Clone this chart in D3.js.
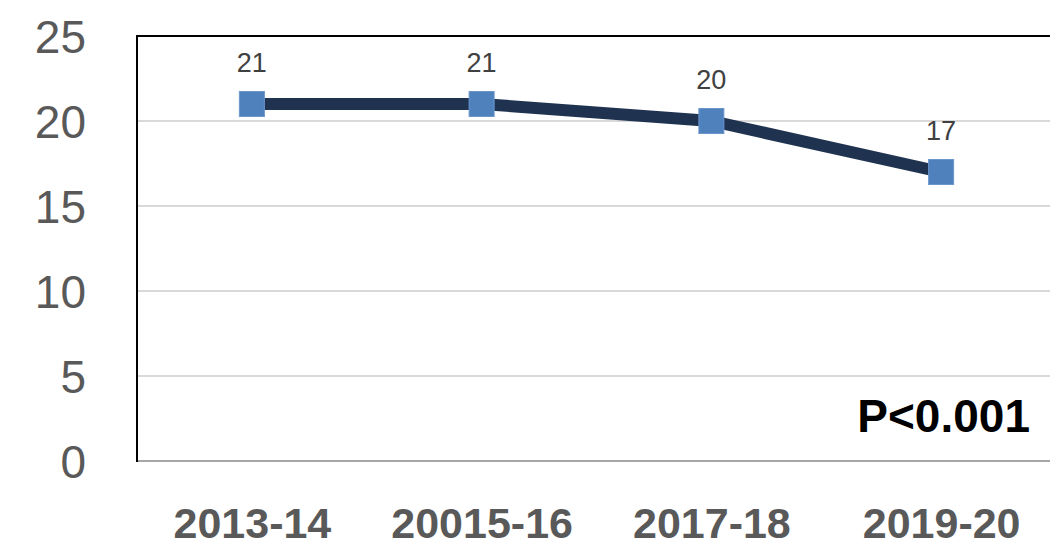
<!DOCTYPE html>
<html><head><meta charset="utf-8">
<script src="https://cdn.jsdelivr.net/npm/d3@7"></script>
<style>body{margin:0;background:#fff}svg{display:block}</style>
</head><body>
<svg id="c" width="1050" height="548"></svg>
<script>
const categories = ["2013-14","20015-16","2017-18","2019-20"];
const values = [21,21,20,17];
const yTicks = [0,5,10,15,20,25];
const annotation = "P<0.001";

const svg = d3.select("#c");
const pLeft = 137, pRight = 1056, pTop = 36, pBottom = 461;
const x = d3.scalePoint().domain(categories).range([pLeft, pRight]).padding(0.5);
const y = d3.scaleLinear().domain([0,25]).range([pBottom, pTop]);

// gridlines
svg.append("g").selectAll("line").data(yTicks.filter(t=>t>0 && t<25)).join("line")
  .attr("x1", pLeft).attr("x2", 1050).attr("y1", d=>y(d)).attr("y2", d=>y(d))
  .attr("stroke", "#d9d9d9").attr("stroke-width", 2);

// top border
svg.append("line").attr("x1", pLeft).attr("x2", 1050).attr("y1", y(25)).attr("y2", y(25))
  .attr("stroke", "#000").attr("stroke-width", 2);
// bottom axis
svg.append("line").attr("x1", pLeft).attr("x2", 1050).attr("y1", y(0)).attr("y2", y(0))
  .attr("stroke", "#a6a6a6").attr("stroke-width", 2);
// left border
svg.append("line").attr("x1", pLeft).attr("x2", pLeft).attr("y1", y(25)-1).attr("y2", y(0)+1)
  .attr("stroke", "#000").attr("stroke-width", 2);

// y axis labels
const yAxis = d3.axisLeft(y).tickValues(yTicks).tickSize(0).tickPadding(51);
const ya = svg.append("g").attr("transform", `translate(${pLeft},0)`).call(yAxis);
ya.select(".domain").remove();
ya.selectAll("text").attr("font-family","Liberation Sans, Arial, sans-serif")
  .attr("font-size", 46).attr("fill", "#595959").attr("dy", "0.36em");

// x axis labels
const xAxis = d3.axisBottom(x).tickSize(0).tickPadding(0);
const xa = svg.append("g").attr("transform", `translate(0,${pBottom})`).call(xAxis);
xa.select(".domain").remove();
xa.selectAll("text").attr("font-family","Liberation Sans, Arial, sans-serif")
  .attr("font-size", 43).attr("font-weight","bold").attr("fill", "#595959")
  .attr("y", 77).attr("dy", 0);

// line
const line = d3.line().x((d,i)=>x(categories[i])).y(d=>y(d));
svg.append("path").datum(values).attr("d", line).attr("fill","none")
  .attr("stroke","#1f3350").attr("stroke-width", 12).attr("stroke-linejoin","round");

// markers
const ms = 25;
svg.append("g").selectAll("rect").data(values).join("rect")
  .attr("x", (d,i)=>x(categories[i]) - ms/2).attr("y", d=>y(d)-ms/2)
  .attr("width", ms).attr("height", ms)
  .attr("fill", "#4f81bd").attr("stroke", "#6b96cc").attr("stroke-width", 1);

// data labels
svg.append("g").selectAll("text").data(values).join("text")
  .attr("x", (d,i)=>x(categories[i])).attr("y", d=>y(d)-32)
  .attr("text-anchor","middle").attr("font-family","Liberation Sans, Arial, sans-serif")
  .attr("font-size", 27).attr("fill", "#404040").text(d=>d);

// annotation
svg.append("text").attr("x", 1030).attr("y", 432).attr("text-anchor","end")
  .attr("font-family","Liberation Sans, Arial, sans-serif").attr("font-size", 46)
  .attr("font-weight","bold").attr("fill","#000").text(annotation);
</script>
</body></html>
